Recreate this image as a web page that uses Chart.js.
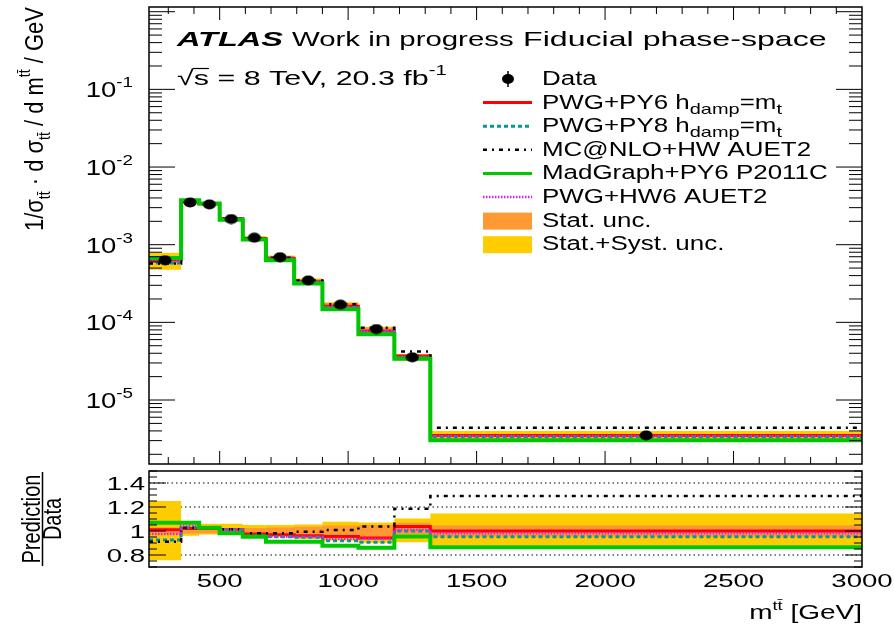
<!DOCTYPE html>
<html>
<head>
<meta charset="utf-8">
<script src="https://cdn.jsdelivr.net/npm/chart.js@4.4.1/dist/chart.umd.min.js"></script>
<style>
  html, body { margin: 0; padding: 0; background: #fff; }
  #wrap { position: relative; width: 894px; height: 630px; overflow: hidden; }
  #top { position: absolute; left: 0; top: 0; }
  #bot { position: absolute; left: 0; top: 470px; }
</style>
</head>
<body>
<div id="wrap">
  <canvas id="top" width="894" height="471" style="width:894px;height:471px"></canvas>
  <canvas id="bot" width="894" height="160" style="width:894px;height:160px"></canvas>
</div>
<script>
// ==============================================
// Data
const binEdges = [225, 350, 420, 500, 590, 680, 790, 900, 1040, 1180, 1320, 3000];
const dataVals = [6.3e-4, 3.5e-3, 3.3e-3, 2.14e-3, 1.23e-3, 6.9e-4, 3.47e-4, 1.69e-4, 8.2e-5, 3.55e-5, 3.5e-6];

// predictions, upper panel
const pwgPy6 = [6.36e-4, 3.57e-3, 3.37e-3, 2.16e-3, 1.20e-3, 6.68e-4, 3.33e-4, 1.61e-4, 7.72e-5, 3.68e-5, 3.5e-6];
const pwgPy8 = [5.83e-4, 3.61e-3, 3.40e-3, 2.16e-3, 1.18e-3, 6.57e-4, 3.29e-4, 1.55e-4, 7.43e-5, 3.55e-5, 3.33e-6];
const mcnloHw = [5.74e-4, 3.60e-3, 3.40e-3, 2.17e-3, 1.21e-3, 6.78e-4, 3.45e-4, 1.71e-4, 8.50e-5, 4.21e-5, 4.4e-6];
const madgraph = [6.73e-4, 3.74e-3, 3.39e-3, 2.10e-3, 1.17e-3, 6.29e-4, 3.16e-4, 1.48e-4, 7.05e-5, 3.39e-5, 3.03e-6];
const pwgHw6 = [6.14e-4, 3.65e-3, 3.40e-3, 2.16e-3, 1.17e-3, 6.57e-4, 3.30e-4, 1.58e-4, 7.67e-5, 3.59e-5, 3.44e-6];

// uncertainty bands, upper panel
const totUp = [7.9e-4, 3.7e-3, 3.5e-3, 2.27e-3, 1.29e-3, 7.25e-4, 3.66e-4, 1.82e-4, 8.8e-5, 3.92e-5, 4.0e-6];
const totDn = [4.76e-4, 3.36e-3, 3.2e-3, 2.08e-3, 1.18e-3, 6.59e-4, 3.24e-4, 1.55e-4, 7.4e-5, 3.22e-5, 3.0e-6];
const statUp = [6.5e-4, 3.57e-3, 3.37e-3, 2.18e-3, 1.26e-3, 7.1e-4, 3.59e-4, 1.77e-4, 8.6e-5, 3.8e-5, 3.66e-6];
const statDn = [6.1e-4, 3.43e-3, 3.23e-3, 2.10e-3, 1.2e-3, 6.7e-4, 3.35e-4, 1.61e-4, 7.8e-5, 3.46e-5, 3.34e-6];

// ratio panel (prediction / data)
const rPy6 = [1.01, 1.02, 1.02, 1.01, 0.974, 0.968, 0.96, 0.955, 0.941, 1.037, 1.0];
const rPy8 = [0.925, 1.03, 1.03, 1.01, 0.96, 0.952, 0.947, 0.919, 0.906, 1.0, 0.952];
const rMcnlo = [0.911, 1.028, 1.03, 1.015, 0.982, 0.982, 0.993, 1.009, 1.037, 1.186, 1.292];
const rMadgraph = [1.069, 1.069, 1.028, 0.982, 0.952, 0.911, 0.911, 0.878, 0.86, 0.955, 0.865];
const rHw6 = [0.974, 1.042, 1.03, 1.01, 0.955, 0.952, 0.952, 0.935, 0.935, 1.01, 0.982];
const rTotUp = [1.25, 1.056, 1.06, 1.06, 1.05, 1.05, 1.055, 1.078, 1.07, 1.104, 1.145];
const rTotDn = [0.756, 0.96, 0.97, 0.97, 0.96, 0.955, 0.933, 0.919, 0.9, 0.906, 0.86];
const rStatUp = [1.03, 1.02, 1.02, 1.02, 1.025, 1.03, 1.035, 1.045, 1.05, 1.069, 1.047];
const rStatDn = [0.97, 0.98, 0.98, 0.98, 0.975, 0.97, 0.965, 0.955, 0.95, 0.974, 0.953];

// ticks
const xMajor = [500, 1000, 1500, 2000, 2500, 3000];
const xLabels = ['500', '1000', '1500', '2000', '2500', '3000'];
const yDecades = [-5, -4, -3, -2, -1];
const rTicks = [0.8, 1, 1.2, 1.4];
const rLabels = ['0.8', '1', '1.2', '1.4'];
// ==============================================

const FONT = '"Liberation Sans", Arial, Helvetica, sans-serif';
const SX = 1.45; // picture is stretched sideways
const COL = {
    py6: '#ff0000', py8: '#0099a0', mcnlo: '#000000', mg: '#00c800', hw6: '#dd22ee',
    stat: '#ff9933', tot: '#ffcc00'
};

function steps(vals) {
    const pts = vals.map((v, i) => ({x: binEdges[i], y: v}));
    pts.push({x: binEdges[binEdges.length - 1], y: vals[vals.length - 1]});
    return pts;
}

// 'before' in chart.js = flat at the previous value, then the jump
function histLine(vals, color, width, dash, order) {
    return {
        data: steps(vals), stepped: 'before', borderColor: color, borderWidth: width,
        borderDash: dash, pointRadius: 0, fill: false, order: order
    };
}

function bandPair(up, dn, color, order) {
    return [
        {data: steps(up), stepped: 'before', borderColor: 'rgba(0,0,0,0)', borderWidth: 1,
            backgroundColor: color, pointRadius: 0, fill: '+1', order: order},
        {data: steps(dn), stepped: 'before', borderColor: 'rgba(0,0,0,0)', borderWidth: 1,
            pointRadius: 0, fill: false, order: order}
    ];
}

function dataMarker() {
    const c = document.createElement('canvas');
    c.width = 14; c.height = 11;
    const g = c.getContext('2d');
    g.fillStyle = '#000';
    g.beginPath();
    g.ellipse(7, 5.5, 6.5, 5, 0, 0, 2 * Math.PI);
    g.fill();
    return c;
}

// text with sub/superscripts, stretched sideways like the picture
function drawParts(ctx, parts, x, y, opt) {
    opt = opt || {};
    ctx.save();
    ctx.translate(x, y);
    ctx.scale(opt.sx || SX, 1);
    if (opt.rotate) ctx.rotate(-Math.PI / 2);
    ctx.fillStyle = '#000';
    ctx.textBaseline = 'alphabetic';
    ctx.textAlign = 'left';
    let total = 0;
    parts.forEach(p => {
        ctx.font = (p.style || '') + ' ' + p.size + 'px ' + FONT;
        p.w = ctx.measureText(p.t).width;
        total += p.w;
    });
    let cx = opt.align === 'right' ? -total : (opt.align === 'center' ? -total / 2 : 0);
    parts.forEach(p => {
        ctx.font = (p.style || '') + ' ' + p.size + 'px ' + FONT;
        ctx.fillText(p.t, cx, p.dy || 0);
        cx += p.w;
    });
    ctx.restore();
    return total * (opt.sx || SX);
}

function strokeLine(ctx, x1, y1, x2, y2, color, width, dash) {
    ctx.save();
    ctx.strokeStyle = color;
    ctx.lineWidth = width;
    ctx.setLineDash(dash || []);
    ctx.beginPath();
    ctx.moveTo(x1, y1);
    ctx.lineTo(x2, y2);
    ctx.stroke();
    ctx.restore();
}

function drawXTicks(ctx, x, yEdge, dir) {
    for (let v = 300; v < 3000; v += 100) {
        const px = x.getPixelForValue(v);
        const len = (v % 500 === 0) ? 13 : 7;
        strokeLine(ctx, px, yEdge, px, yEdge + dir * len, '#000', 1);
    }
}

const tt = 'tt\u0304';

// ==============================================
// Upper panel decorations
const topDecor = {
    id: 'topDecor',
    afterDraw(chart) {
        const {ctx, chartArea: a, scales: {x, y}} = chart;
        // frame
        ctx.save();
        ctx.strokeStyle = '#000';
        ctx.lineWidth = 1.5;
        ctx.strokeRect(a.left, a.top, a.right - a.left, a.bottom - a.top);
        ctx.restore();
        // x ticks
        drawXTicks(ctx, x, a.bottom, -1);
        drawXTicks(ctx, x, a.top, 1);
        // y ticks (log)
        for (let k = -6; k <= 0; k++) {
            for (let m = 1; m <= 9; m++) {
                const v = m * Math.pow(10, k);
                if (v < y.min || v > y.max) continue;
                const py = y.getPixelForValue(v);
                const len = m === 1 ? 26 : 13;
                strokeLine(ctx, a.left, py, a.left + len, py, '#000', 1);
                strokeLine(ctx, a.right, py, a.right - len, py, '#000', 1);
            }
        }
        // y labels
        yDecades.forEach(k => {
            const py = y.getPixelForValue(Math.pow(10, k));
            drawParts(ctx, [{t: '10', size: 22}, {t: String(k), size: 15, dy: -10}],
                133, py + 8, {align: 'right', sx: 1.25});
        });
        // y title
        drawParts(ctx, [
            {t: '1/\u03c3', size: 22}, {t: tt, size: 14, dy: 6},
            {t: ' \u00b7 d \u03c3', size: 22}, {t: tt, size: 14, dy: 6},
            {t: ' / d m', size: 22}, {t: tt, size: 14, dy: -11},
            {t: ' / GeV', size: 22}
        ], 43, 7, {rotate: true, align: 'right', sx: 1.2});

        // labels top left
        drawParts(ctx, [{t: 'ATLAS', size: 21, style: 'italic bold'}], 177, 46, {sx: 1.55});
        drawParts(ctx, [{t: 'Work in progress', size: 21}], 292, 46, {sx: 1.4});
        drawParts(ctx, [{t: 'Fiducial phase-space', size: 21}], 523, 46, {sx: 1.53});
        const wRoot = drawParts(ctx, [{t: '\u221a', size: 21}], 177, 85);
        const wS = drawParts(ctx, [{t: 's', size: 21}], 177 + wRoot, 85);
        strokeLine(ctx, 177 + wRoot - 1, 68.5, 177 + wRoot + wS, 68.5, '#000', 1.2);
        drawParts(ctx, [{t: ' = 8 TeV, 20.3 fb', size: 21}, {t: '-1', size: 14, dy: -10}],
            177 + wRoot + wS, 85);

        // legend
        const lx1 = 483, lx2 = 532, tx = 542, lsx = 1.33;
        const rows = [85, 108.6, 132.2, 155.8, 179.4, 203, 226.6, 250.2];
        // data
        ctx.save();
        ctx.fillStyle = '#000';
        ctx.beginPath();
        ctx.ellipse(508, rows[0] - 6, 6, 5, 0, 0, 2 * Math.PI);
        ctx.fill();
        ctx.restore();
        strokeLine(ctx, 508, rows[0] - 14, 508, rows[0] + 2, '#000', 1.5);
        drawParts(ctx, [{t: 'Data', size: 19.5}], tx, rows[0], {sx: lsx});
        const sub = (s) => ({t: s, size: 15, dy: 5});
        const legLines = [
            [COL.py6, 3, [], [{t: 'PWG+PY6 h', size: 19.5}, sub('damp'), {t: '=m', size: 19.5}, sub('t')]],
            [COL.py8, 3, [4, 3], [{t: 'PWG+PY8 h', size: 19.5}, sub('damp'), {t: '=m', size: 19.5}, sub('t')]],
            [COL.mcnlo, 2.5, [4, 5, 2, 5], [{t: 'MC@NLO+HW AUET2', size: 19.5}]],
            [COL.mg, 3, [], [{t: 'MadGraph+PY6 P2011C', size: 19.5}]],
            [COL.hw6, 2.5, [1.5, 1.5], [{t: 'PWG+HW6 AUET2', size: 19.5}]]
        ];
        legLines.forEach((l, i) => {
            const r = rows[i + 1];
            strokeLine(ctx, lx1, r - 6, lx2, r - 6, l[0], l[1], l[2]);
            drawParts(ctx, l[3], tx, r, {sx: lsx});
        });
        ctx.fillStyle = COL.stat;
        ctx.fillRect(lx1, rows[6] - 14, lx2 - lx1, 17);
        ctx.fillStyle = COL.tot;
        ctx.fillRect(lx1, rows[7] - 14, lx2 - lx1, 17);
        drawParts(ctx, [{t: 'Stat. unc.', size: 19.5}], tx, rows[6], {sx: lsx});
        drawParts(ctx, [{t: 'Stat.+Syst. unc.', size: 19.5}], tx, rows[7], {sx: lsx});
    }
};

// ==============================================
// Lower panel decorations
const botDecor = {
    id: 'botDecor',
    beforeDatasetsDraw(chart) {
        const {ctx, chartArea: a, scales: {y}} = chart;
        rTicks.forEach(v => {
            const py = y.getPixelForValue(v);
            strokeLine(ctx, a.left, py, a.right, py, '#000', 1, [1.5, 3]);
        });
    },
    afterDraw(chart) {
        const {ctx, chartArea: a, scales: {x, y}} = chart;
        ctx.save();
        ctx.strokeStyle = '#000';
        ctx.lineWidth = 1.5;
        ctx.strokeRect(a.left, a.top, a.right - a.left, a.bottom - a.top);
        ctx.restore();
        // y ticks
        for (let i = 0; i <= 16; i++) {
            const v = 0.7 + i * 0.05;
            const py = y.getPixelForValue(v);
            const major = Math.abs((v * 10) % 2) < 0.01 || Math.abs((v * 10) % 2 - 2) < 0.01;
            const len = major ? 17 : 8;
            strokeLine(ctx, a.left, py, a.left + len, py, '#000', 1);
            strokeLine(ctx, a.right, py, a.right - len, py, '#000', 1);
        }
        rTicks.forEach((v, i) => {
            drawParts(ctx, [{t: rLabels[i], size: 19}], 145, y.getPixelForValue(v) + 7, {align: 'right'});
        });
        // x labels
        xMajor.forEach((v, i) => {
            drawParts(ctx, [{t: xLabels[i], size: 19}], x.getPixelForValue(v), 117, {align: 'center'});
        });
        // x title
        drawParts(ctx, [{t: 'm', size: 20}, {t: tt, size: 13, dy: -9}, {t: ' [GeV]', size: 20}],
            862, 149, {align: 'right', sx: 1.4});
        // y title as fraction
        const cy = (a.top + a.bottom) / 2;
        drawParts(ctx, [{t: 'Prediction', size: 20}], 40, cy, {rotate: true, align: 'center', sx: 1.25});
        strokeLine(ctx, 42.5, a.top + 1, 42.5, a.bottom - 1, '#000', 1.5);
        drawParts(ctx, [{t: 'Data', size: 20}], 61, cy, {rotate: true, align: 'center', sx: 1.25});
    }
};

const baseOptions = (yScale, padding) => ({
    responsive: false,
    animation: false,
    layout: {padding: padding},
    plugins: {legend: {display: false}, tooltip: {enabled: false}},
    scales: {
        x: {type: 'linear', min: 225, max: 3000, display: false},
        y: yScale
    }
});

const bandsTop = [].concat(bandPair(totUp, totDn, COL.tot, 8), bandPair(statUp, statDn, COL.stat, 7));

new Chart(document.getElementById('top'), {
    type: 'line',
    data: {
        datasets: bandsTop.concat([
            histLine(pwgPy6, COL.py6, 3, [], 6),
            histLine(pwgPy8, COL.py8, 3, [4, 3], 5),
            histLine(mcnloHw, COL.mcnlo, 2.5, [4, 5, 2, 5], 4),
            histLine(pwgHw6, COL.hw6, 2.5, [1.5, 1.5], 3),
            histLine(madgraph, COL.mg, 4, [], 2),
            {
                data: dataVals.map((v, i) => ({x: (binEdges[i] + binEdges[i + 1]) / 2, y: v})),
                showLine: false, pointStyle: dataMarker(), pointRadius: 6, order: 0
            }
        ])
    },
    options: baseOptions({type: 'logarithmic', min: 1.5e-6, max: 1.15, display: false},
        {left: 149, right: 32, top: 3, bottom: 0}),
    plugins: [topDecor]
});

const bandsBot = [].concat(bandPair(rTotUp, rTotDn, COL.tot, 8), bandPair(rStatUp, rStatDn, COL.stat, 7));

new Chart(document.getElementById('bot'), {
    type: 'line',
    data: {
        datasets: bandsBot.concat([
            histLine(rPy6, COL.py6, 3, [], 6),
            histLine(rPy8, COL.py8, 3, [4, 3], 5),
            histLine(rMcnlo, COL.mcnlo, 2.5, [4, 5, 2, 5], 4),
            histLine(rHw6, COL.hw6, 2.5, [1.5, 1.5], 3),
            histLine(rMadgraph, COL.mg, 4, [], 2)
        ])
    },
    options: baseOptions({type: 'linear', min: 0.7, max: 1.5, display: false},
        {left: 149, right: 32, top: 1, bottom: 63}),
    plugins: [botDecor]
});
</script>
</body>
</html>
